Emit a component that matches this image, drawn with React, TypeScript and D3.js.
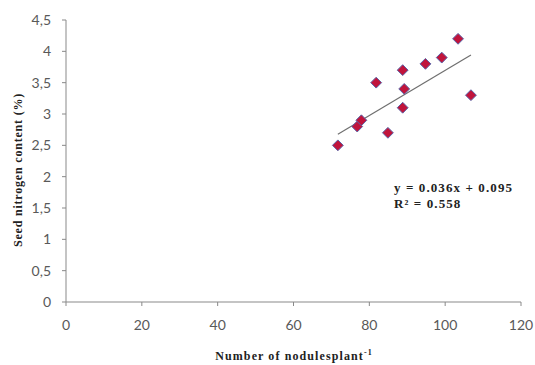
import React from "react";
import * as d3 from "d3";

const nodules = [71.7, 76.8, 77.9, 81.8, 84.9, 88.8, 89.2, 88.8, 94.8, 99.1, 103.4, 106.8];
const nitrogen = [2.5, 2.8, 2.9, 3.5, 2.7, 3.7, 3.4, 3.1, 3.8, 3.9, 4.2, 3.3];
const xTicks = [0, 20, 40, 60, 80, 100, 120];
const yTicks = [0, 0.5, 1, 1.5, 2, 2.5, 3, 3.5, 4, 4.5];
const slope = 0.036;
const intercept = 0.095;

export default function App() {
  const W = 535, H = 365;
  const x = d3.scaleLinear().domain([0, 120]).range([66, 521]);
  const y = d3.scaleLinear().domain([0, 4.5]).range([302, 20]);
  const fmt = (v: number) => String(v).replace(".", ",");
  const xMin = d3.min(nodules)!, xMax = d3.max(nodules)!;
  const diamond = d3.symbol().type(d3.symbolDiamond2).size(75)();
  const axisColor = "#898989";
  const tickFont = "Lato, 'Open Sans', sans-serif";
  const serif = "'Liberation Serif', 'Times New Roman', serif";
  return (
    <svg width={W} height={H} style={{ position: "absolute", left: 0, top: 0, background: "#fff" }}>
      <line x1={x(0)} x2={x(120)} y1={y(0)} y2={y(0)} stroke={axisColor} />
      <line x1={x(0)} x2={x(0)} y1={y(0)} y2={y(4.5)} stroke={axisColor} />
      {xTicks.map((t) => (
        <g key={"x" + t}>
          <line x1={x(t)} x2={x(t)} y1={y(0)} y2={y(0) + 4} stroke={axisColor} />
          <text x={x(t)} y={330} textAnchor="middle" fontFamily={tickFont} fontSize={14} fill="#595959">
            {t}
          </text>
        </g>
      ))}
      {yTicks.map((t) => (
        <g key={"y" + t}>
          <line x1={x(0) - 4} x2={x(0)} y1={y(t)} y2={y(t)} stroke={axisColor} />
          <text x={x(0) - 15} y={y(t) + 5} textAnchor="end" fontFamily={tickFont} fontSize={14} fill="#595959">
            {fmt(t)}
          </text>
        </g>
      ))}
      <line
        x1={x(xMin)}
        x2={x(xMax)}
        y1={y(slope * xMin + intercept)}
        y2={y(slope * xMax + intercept)}
        stroke="#6f6f6f"
        strokeWidth={1.2}
      />
      {nodules.map((n, i) => (
        <path
          key={i}
          d={diamond as string}
          transform={`translate(${x(n)},${y(nitrogen[i])})`}
          fill="#c0143c"
          stroke="#5a64a8"
          strokeWidth={1}
        />
      ))}
      <text x={394} y={192} fontFamily={serif} fontWeight="bold" fontSize={13} letterSpacing={1.1} fill="#222">
        y = 0.036x + 0.095
      </text>
      <text x={394} y={208} fontFamily={serif} fontWeight="bold" fontSize={13} letterSpacing={1.1} fill="#222">
        R² = 0.558
      </text>
      <text
        x={294}
        y={360}
        textAnchor="middle"
        fontFamily={serif}
        fontWeight="bold"
        fontSize={12}
        letterSpacing={1.1}
        fill="#222"
      >
        Number of nodulesplant
        <tspan dy={-5} fontSize={8}>-1</tspan>
      </text>
      <text
        transform={`translate(22,170) rotate(-90)`}
        textAnchor="middle"
        fontFamily={serif}
        fontWeight="bold"
        fontSize={12}
        letterSpacing={0.8}
        fill="#222"
      >
        Seed nitrogen content (%)
      </text>
    </svg>
  );
}
